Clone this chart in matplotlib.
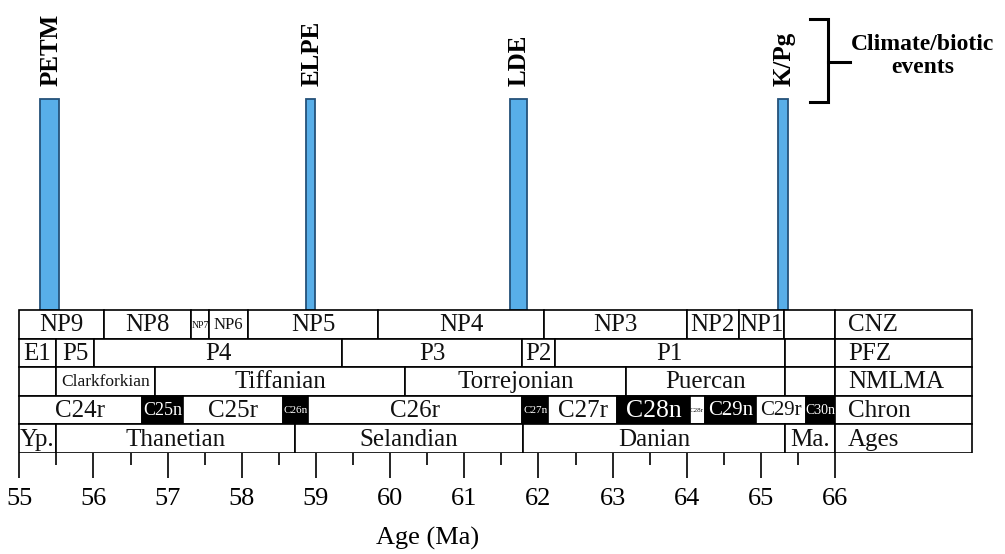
import matplotlib
matplotlib.use("Agg")
import matplotlib.pyplot as plt
from matplotlib.patches import Rectangle

plt.rcParams['font.family'] = ['Liberation Serif', 'DejaVu Serif']

# ---------------- data ----------------
event_names = ["PETM", "ELPE", "LDE", "K/Pg"]
event_start = [55.28, 58.87, 61.61, 65.23]
event_end = [55.54, 58.99, 61.84, 65.36]

cnz_names = ["NP9", "NP8", "NP7", "NP6", "NP5", "NP4", "NP3", "NP2", "NP1", ""]
cnz_bounds = [55.0, 56.14, 57.31, 57.56, 58.08, 59.84, 62.07, 64.00, 64.70, 65.31, 66.0]

pfz_names = ["E1", "P5", "P4", "P3", "P2", "P1", ""]
pfz_bounds = [55.0, 55.49, 56.01, 59.35, 61.78, 62.22, 65.32, 66.0]

nmlma_names = ["", "Clarkforkian", "Tiffanian", "Torrejonian", "Puercan", ""]
nmlma_bounds = [55.0, 55.49, 56.83, 60.20, 63.18, 65.32, 66.0]

chron_names = ["C24r", "C25n", "C25r", "C26n", "C26r", "C27n", "C27r",
               "C28n", "C28r", "C29n", "C29r", "C30n"]
chron_bounds = [55.0, 56.65, 57.21, 58.56, 58.89, 61.78, 62.13, 63.06,
                64.04, 64.24, 64.93, 65.61, 66.0]

age_names = ["Yp.", "Thanetian", "Selandian", "Danian", "Ma."]
age_bounds = [55.0, 55.49, 58.72, 61.79, 65.32, 66.0]

row_labels = ["CNZ", "PFZ", "NMLMA", "Chron", "Ages"]

major_ticks = [55, 56, 57, 58, 59, 60, 61, 62, 63, 64, 65, 66]
minor_ticks = [55.5, 56.5, 57.5, 58.5, 59.5, 60.5, 61.5, 62.5, 63.5, 64.5, 65.5]

# font sizes for narrow cells
small_sizes = {"NP7": 7, "NP6": 12, "Clarkforkian": 12.5, "C25n": 13, "C26n": 8,
               "C27n": 8, "C28r": 5, "C29n": 15, "C29r": 15, "C30n": 10,
               "C28n": 18.5}

# ---------------- layout ----------------
W, H = 1005, 554
fig = plt.figure(figsize=(W / 100, H / 100), dpi=100)
px_per_ma = 74.17
x0_px = 19.3
xmin = 55 - x0_px / px_per_ma
xmax = xmin + W / px_per_ma
table_bottom_px = 453
row_h_px = 28.6
ax = fig.add_axes([0, 1 - table_bottom_px / H, 1, table_bottom_px / H])
ax.set_xlim(xmin, xmax)
ax.set_ylim(0, table_bottom_px / row_h_px)
for s in ax.spines.values():
    s.set_visible(False)
ax.set_yticks([])
ax.set_xticks(major_ticks)
ax.set_xticklabels([str(t) for t in major_ticks])
ax.set_xticks(minor_ticks, minor=True)
ax.tick_params(axis='x', which='major', direction='out', length=18, width=1.2,
               labelsize=19, pad=7)
ax.tick_params(axis='x', which='minor', direction='out', length=8.5, width=1.2)

label_right = 67.845
lw = 1.2

rows = [
    (cnz_names, cnz_bounds),
    (pfz_names, pfz_bounds),
    (nmlma_names, nmlma_bounds),
    (chron_names, chron_bounds),
    (age_names, age_bounds),
]
n_rows = len(rows)
for i, (names, bounds) in enumerate(rows):
    y0 = n_rows - 1 - i
    for j, name in enumerate(names):
        a, b = bounds[j], bounds[j + 1]
        dark = (rows[i][0] is chron_names) and name.endswith("n")
        ax.add_patch(Rectangle((a, y0), b - a, 1, facecolor='black' if dark else 'white',
                               edgecolor='black', linewidth=lw, zorder=2))
        if name:
            fs = small_sizes.get(name, 18)
            ax.text((a + b) / 2, y0 + 0.47, name, ha='center', va='center',
                    fontsize=fs, color='white' if dark else '#111111', zorder=3)
    ax.add_patch(Rectangle((66.0, y0), label_right - 66.0, 1, facecolor='white',
                           edgecolor='black', linewidth=lw, zorder=2))
    ax.text(66.17, y0 + 0.47, row_labels[i], ha='left', va='center', fontsize=18,
            color='#111111', zorder=3)

# event bars
bar_top = (table_bottom_px - 99) / row_h_px
centers = [(s + e) / 2 for s, e in zip(event_start, event_end)]
widths = [e - s for s, e in zip(event_start, event_end)]
ax.bar(centers, bar_top - n_rows, width=widths, bottom=n_rows, color='#58aee8',
       edgecolor='#24527a', linewidth=1.3, zorder=1)
label_y = (table_bottom_px - 86) / row_h_px
for c, name in zip(centers, event_names):
    ax.text(c + 0.02, label_y, name, rotation=90, ha='center', va='bottom',
            fontsize=18, fontweight='bold', color='black')

# bracket
yt = (table_bottom_px - 19) / row_h_px
yb = (table_bottom_px - 102) / row_h_px
ym = (table_bottom_px - 62) / row_h_px
ax.plot([65.66, 65.90, 65.90, 65.66], [yt, yt, yb, yb], color='black', lw=2.2,
        solid_joinstyle='miter', clip_on=False)
ax.plot([65.90, 66.20], [ym, ym], color='black', lw=2.2, clip_on=False)
ax.text(67.18, (table_bottom_px - 56) / row_h_px, "Climate/biotic\nevents",
        ha='center', va='center', multialignment='center', fontsize=17,
        fontweight='bold', linespacing=1.1)

ax.set_xlabel("Age (Ma)", fontsize=19)
ax.xaxis.set_label_coords((60.5 - xmin) / (xmax - xmin), -(527 - table_bottom_px) / table_bottom_px)

fig.savefig("out.png", dpi=100, facecolor='white')
